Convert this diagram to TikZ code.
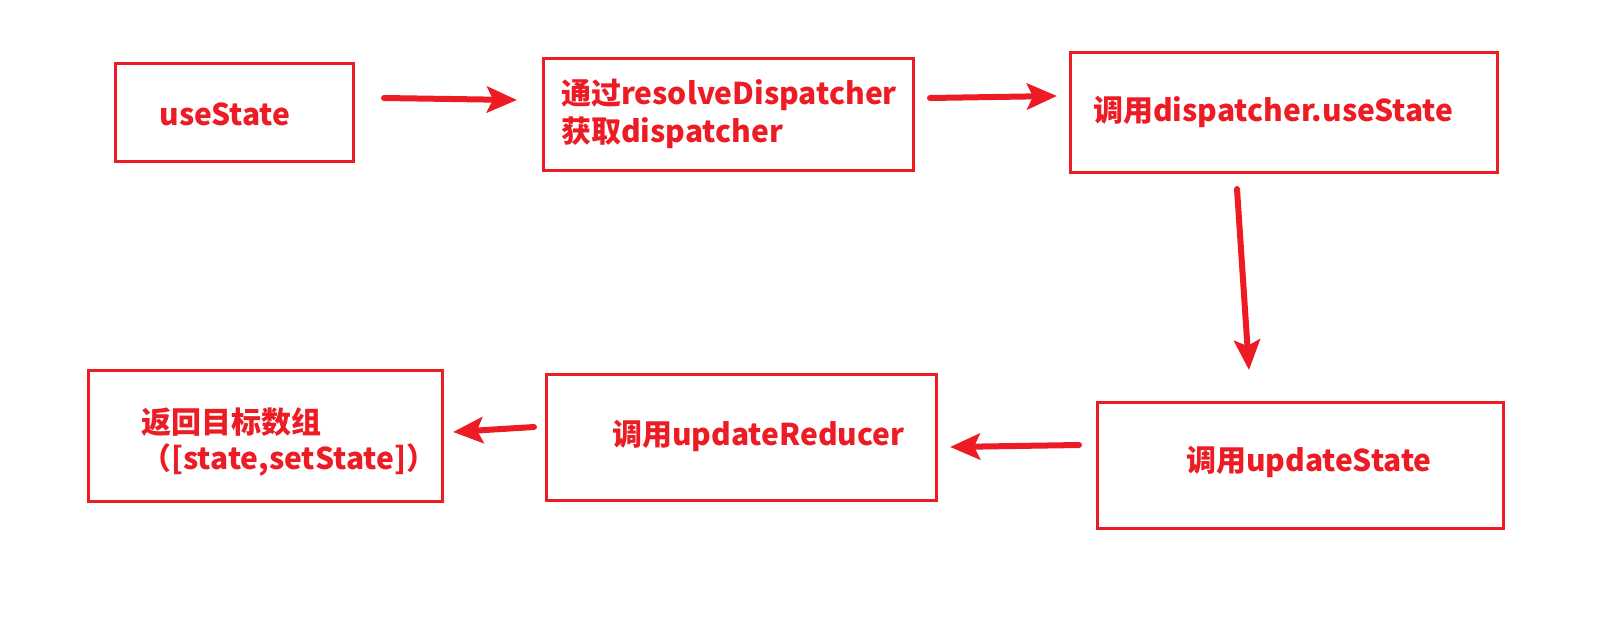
\documentclass[tikz,border=0pt]{standalone}
\usepackage{fontspec}
\newfontfamily\cjk{Noto Sans CJK SC}
\usetikzlibrary{arrows.meta}
\definecolor{paintred}{HTML}{ED1C24}

\begin{document}
\begin{tikzpicture}[x=1pt, y=-1pt]
        \tikzstyle{stage}=[rectangle,draw=paintred,line width=3pt,inner sep=0pt]
        \tikzstyle{txt}=[text=paintred,inner sep=0pt,align=left,font=\cjk\bfseries\fontsize{30}{38}\selectfont]
        \tikzstyle{flow}=[draw=paintred,line width=6pt,line cap=round,-{Stealth[length=30pt,width=26pt,inset=6pt]}]

        \useasboundingbox (0,0) rectangle (1622,619);

        % boxes
        \node[stage,minimum width=238pt,minimum height=98pt] (B_1) at (234,112) {};
        \node[stage,minimum width=370pt,minimum height=112pt] (B_2) at (728,114) {};
        \node[stage,minimum width=427pt,minimum height=120pt] (B_3) at (1283.5,112) {};
        \node[stage,minimum width=406pt,minimum height=126pt] (B_4) at (1300,465) {};
        \node[stage,minimum width=390pt,minimum height=126pt] (B_5) at (741,437) {};
        \node[stage,minimum width=354pt,minimum height=131pt] (B_6) at (265,435.5) {};

        % texts
        \node[txt] (T_1) at (225,114) {useState};
        \node[txt,anchor=west] (T_2) at (561,114) {通过resolveDispatcher\\获取dispatcher};
        \node[txt,anchor=west] (T_3) at (1093,112) {调用dispatcher.useState};
        \node[txt] (T_4) at (1309,462) {调用updateState};
        \node[txt,anchor=west] (T_5) at (612,436) {调用updateReducer};
        \node[txt,anchor=west,font=\cjk\bfseries\fontsize{30}{36}\selectfont] (T_6) at (141,442) {返回目标数组\\（[state,setState]）};

        % arrows
        \coordinate (A_1) at (384,98);   \coordinate (A_2) at (517,100);
        \coordinate (A_3) at (930,98);   \coordinate (A_4) at (1057,96);
        \coordinate (A_5) at (1237,189); \coordinate (A_6) at (1249,370);
        \coordinate (A_7) at (1079,445); \coordinate (A_8) at (950,447);
        \coordinate (A_9) at (534,427);  \coordinate (A_10) at (453,432);
        \draw[flow] (A_1) -- (A_2);
        \draw[flow] (A_3) -- (A_4);
        \draw[flow] (A_5) -- (A_6);
        \draw[flow] (A_7) -- (A_8);
        \draw[flow] (A_9) -- (A_10);
    \end{tikzpicture}
\end{document}
